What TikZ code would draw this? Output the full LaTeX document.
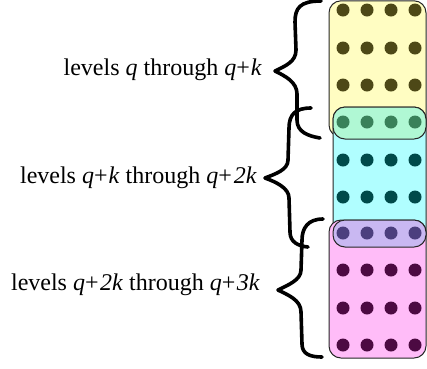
\documentclass[tikz,border=0pt]{standalone}
\usepackage{fontspec}
\setmainfont{Liberation Serif}
\definecolor{yel}{HTML}{FFFDC2}
\definecolor{yeldot}{HTML}{4D4817}
\definecolor{grn}{HTML}{B0F8D4}
\definecolor{grndot}{HTML}{3A815A}
\definecolor{cya}{HTML}{B0FEFF}
\definecolor{cyadot}{HTML}{004A4A}
\definecolor{pur}{HTML}{C9B8F2}
\definecolor{purdot}{HTML}{4C3F7E}
\definecolor{pnk}{HTML}{FFBCF8}
\definecolor{pnkdot}{HTML}{4C0A42}
\begin{document}
\begin{tikzpicture}[x=1pt,y=-1pt,
  box/.style={draw=black!85, line width=1pt, rounded corners=12pt},
  brace/.style={line width=3.6pt, line cap=round, line join=round},
  lbl/.style={anchor=base east, inner sep=0pt, font=\fontsize{24}{28}\selectfont}]
\useasboundingbox (0,0) rectangle (427,368);
% boxes
\draw[box, fill=yel] (329,0.8) rectangle (426,137);
\draw[box, fill=cya] (333,107) rectangle (426,247);
\draw[box, fill=pnk] (329,220) rectangle (426,358);
\draw[box, fill=grn] (333,107) rectangle (426,139);
\draw[box, fill=pur] (333,220) rectangle (426,247);
% dots
\foreach \x in {343,367,391,415}{
  \foreach \y in {10,48,85} \fill[yeldot] (\x,\y) circle (6.5pt);
  \fill[grndot] (\x,122) circle (6.5pt);
  \foreach \y in {160,197} \fill[cyadot] (\x,\y) circle (6.5pt);
  \fill[purdot] (\x,233) circle (6.5pt);
  \foreach \y in {270,308,345} \fill[pnkdot] (\x,\y) circle (6.5pt);
}
% labels
\node[lbl] (l1) at (262,75) {levels \textit{q} through \textit{q}+\kern1pt\textit{k}};
\node[lbl] (l2) at (257,183) {levels \textit{q}+\kern1pt\textit{k} through \textit{q}+\kern2pt\textit{2k}};
\node[lbl] (l3) at (260,290) {levels \textit{q}+\kern1.5pt\textit{2k} through \textit{q}+\kern1.5pt\textit{3k}};
% braces
\draw[brace] (321,1) .. controls (300,1) and (295,8) .. (295,22)
  -- (296,50) .. controls (296,62) and (285,66) .. (275,71)
  .. controls (285,76) and (297,82) .. (297,94)
  -- (297,120) .. controls (297,132) and (308,136) .. (320,138);
\draw[brace] (311,108) .. controls (296,108) and (289,114) .. (289,128)
  -- (288,160) .. controls (288,170) and (275,174) .. (265,178)
  .. controls (276,182) and (289,188) .. (289,198)
  -- (290,232) .. controls (290,242) and (298,246) .. (308,247);
\draw[brace] (323,219) .. controls (308,219) and (302,228) .. (302,240)
  -- (301,270) .. controls (301,280) and (288,285) .. (278,290)
  .. controls (288,295) and (301,300) .. (301,312)
  -- (302,344) .. controls (302,354) and (310,357) .. (322,357);
\end{tikzpicture}
\end{document}
